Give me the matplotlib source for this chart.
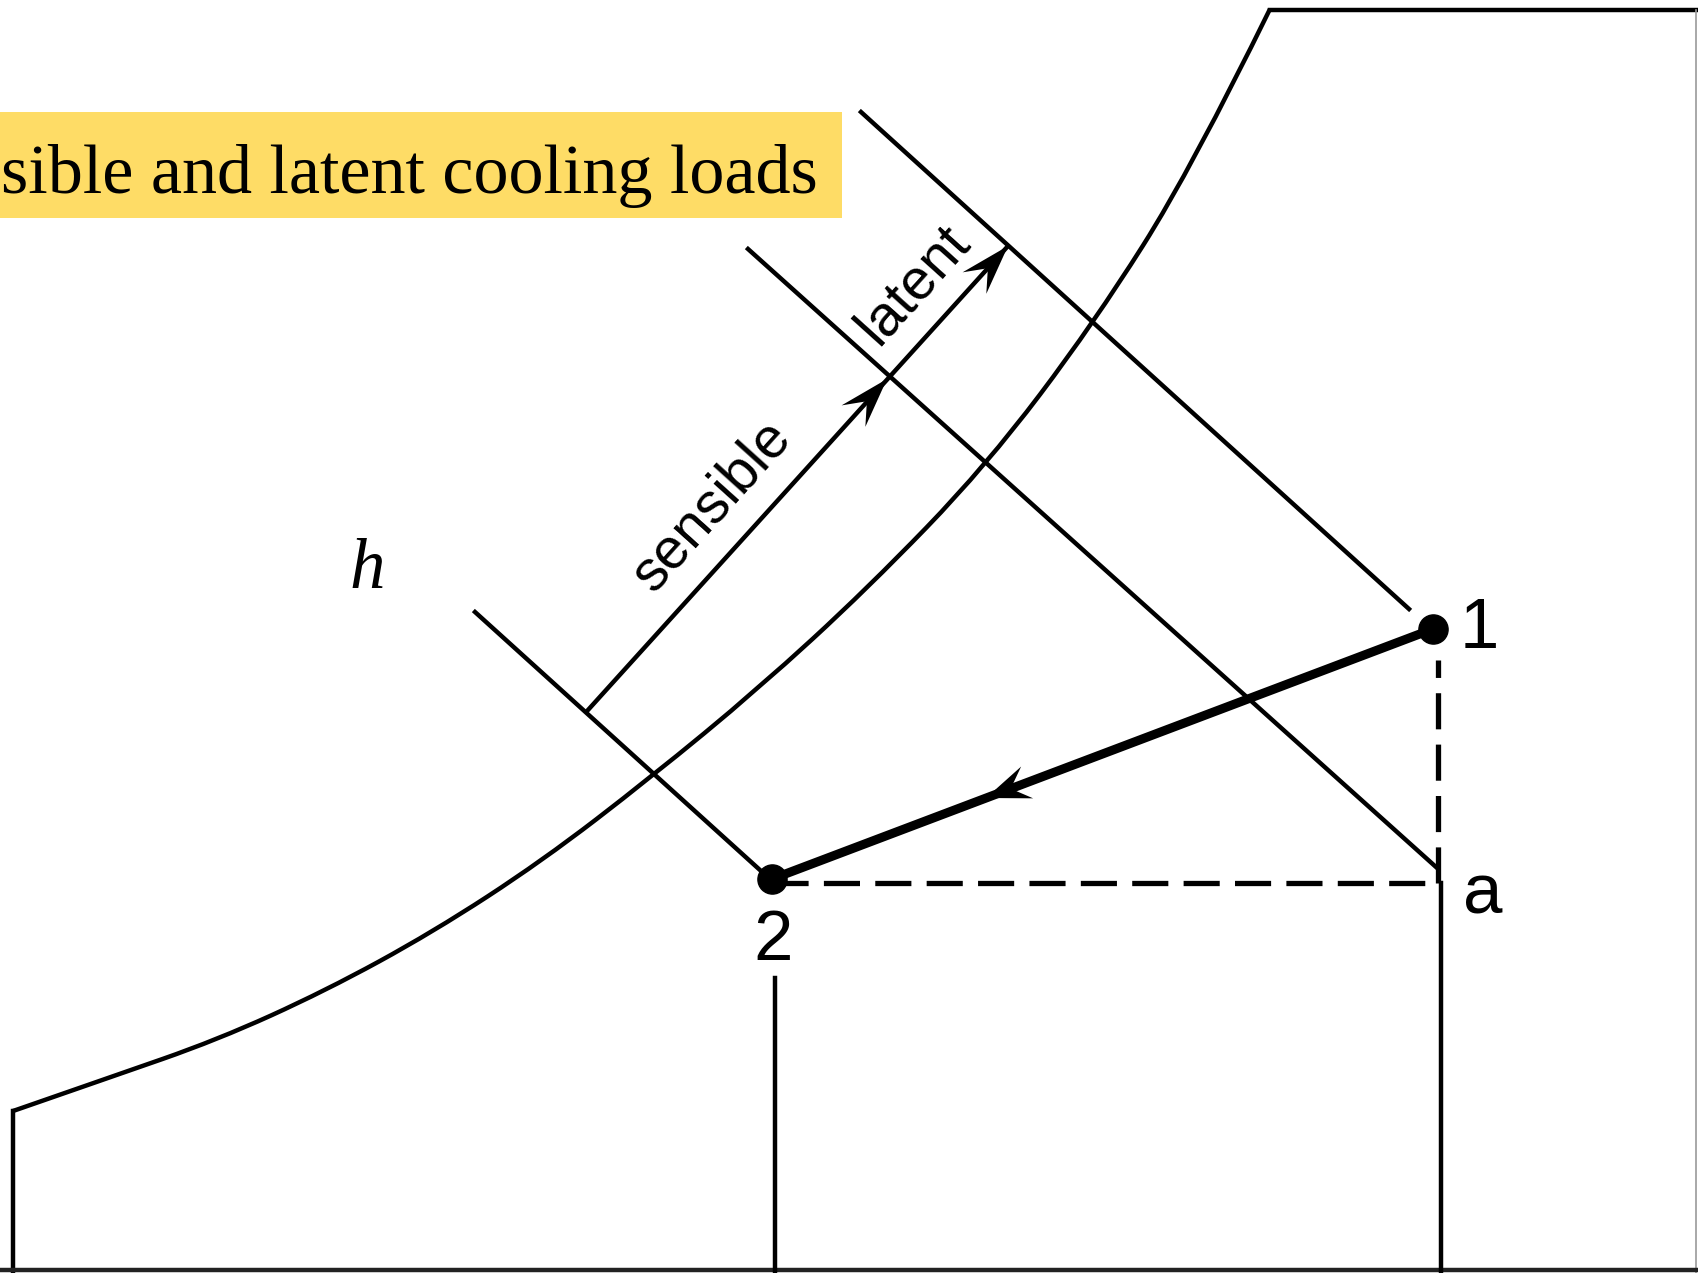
import numpy as np
import matplotlib.pyplot as plt
from matplotlib.patches import Polygon, Rectangle, PathPatch
from matplotlib.path import Path

plt.rcParams['lines.scale_dashes'] = False

# saturation curve (pixel coords of the sketch, y down)
curve_x = [13, 108, 217, 325, 433, 542, 650, 758, 867, 986, 1094, 1192, 1270]
curve_y = [1111, 1078, 1040, 991, 932, 861, 778, 689, 589, 466, 323, 168, 9]

# constant enthalpy lines
h_low = [(475, 612), (771, 880)]
h_mid = [(748, 249), (1436, 867)]
h_top = [(861, 112), (1409, 609)]

# state points
p1 = (1433, 629)
p2 = (772, 879)
pa = (1438, 883)

# sensible / latent arrow ends
sens_start = (588, 710)
sens_end = (887, 379)
lat_end = (1008, 246)

title = "sible and latent cooling loads"

fig = plt.figure(figsize=(16.99, 12.73), dpi=100)
ax = fig.add_axes([0, 0, 1, 1])
ax.set_xlim(0, 1699)
ax.set_ylim(1273, 0)
ax.axis('off')

lw = 3.2

# saturation curve drawn as a smooth path through the read points
pts = np.column_stack([curve_x, curve_y]).astype(float)
verts = [pts[0]]
codes = [Path.MOVETO]
for i in range(1, len(pts) - 1):
    verts += [pts[i], (pts[i] + pts[i + 1]) / 2 if i < len(pts) - 2 else pts[i + 1]]
    codes += [Path.CURVE3, Path.CURVE3]
ax.add_patch(PathPatch(Path(verts, codes), fill=False, edgecolor='black', lw=lw))

# frame pieces
ax.plot([13, 13], [1111, 1273], color='black', lw=lw)
ax.plot([1270, 1699], [10, 10], color='black', lw=lw)
ax.plot([1696, 1696], [10, 1273], color='#999999', lw=1.2)
ax.plot([0, 1699], [1270, 1270], color='#222222', lw=lw)

# enthalpy lines
for ln in [h_low, h_mid, h_top]:
    ax.plot([ln[0][0], ln[1][0]], [ln[0][1], ln[1][1]], color='black', lw=lw)

# verticals to the temperature axis
ax.plot([775, 775], [978, 1273], color='black', lw=lw)
ax.plot([1441, 1441], [883, 1273], color='black', lw=lw)

# dashed lines
ax.plot([p2[0], pa[0]], [pa[1], pa[1]], color='black', lw=3.8, dashes=(26, 11))
ax.plot([pa[0], pa[0]], [pa[1], 660], color='black', lw=3.8, dashes=(26, 11))


def stealth(tip, frm, length, width):
    tip = np.array(tip, float)
    d = tip - np.array(frm, float)
    d = d / np.hypot(*d)
    n = np.array([-d[1], d[0]])
    base = tip - d * length
    notch = tip - d * length * 0.6
    p = [tip, base + n * width / 2, notch, base - n * width / 2]
    ax.add_patch(Polygon(p, closed=True, color='black', lw=0))


# sensible and latent arrows
ax.plot([sens_start[0], lat_end[0]], [sens_start[1], lat_end[1]], color='black', lw=lw)
stealth(sens_end, sens_start, 50, 32)
stealth(lat_end, sens_start, 50, 32)

# process line 1 -> 2
ax.plot([p1[0], p2[0]], [p1[1], p2[1]], color='black', lw=6.5, solid_capstyle='round')
mid = (986, 798)
stealth(mid, p1, 44, 34)
ax.plot([p1[0], p2[0]], [p1[1], p2[1]], 'o', color='black', ms=21)

# labels
ax.text(1479, 630, '1', fontsize=51, family='Liberation Sans', ha='center', va='center')
ax.text(773, 942, '2', fontsize=51, family='Liberation Sans', ha='center', va='center')
ax.text(1483, 895, 'a', fontsize=51, family='Liberation Sans', ha='center', va='center')
ax.text(367, 570, 'h', fontsize=51, family='Liberation Serif', style='italic', ha='center', va='center')
ax.text(712, 506, 'sensible', fontsize=41, family='Liberation Sans', rotation=48,
        rotation_mode='anchor', ha='center', va='center')
ax.text(913, 285, 'latent', fontsize=41, family='Liberation Sans', rotation=48,
        rotation_mode='anchor', ha='center', va='center')

# title banner
ax.add_patch(Rectangle((0, 112), 842, 106, color='#FEDC66', lw=0, zorder=0))
ax.text(818, 193, title, fontsize=50.5, family='Liberation Serif', ha='right', va='baseline')

fig.savefig('out.png', dpi=100)
